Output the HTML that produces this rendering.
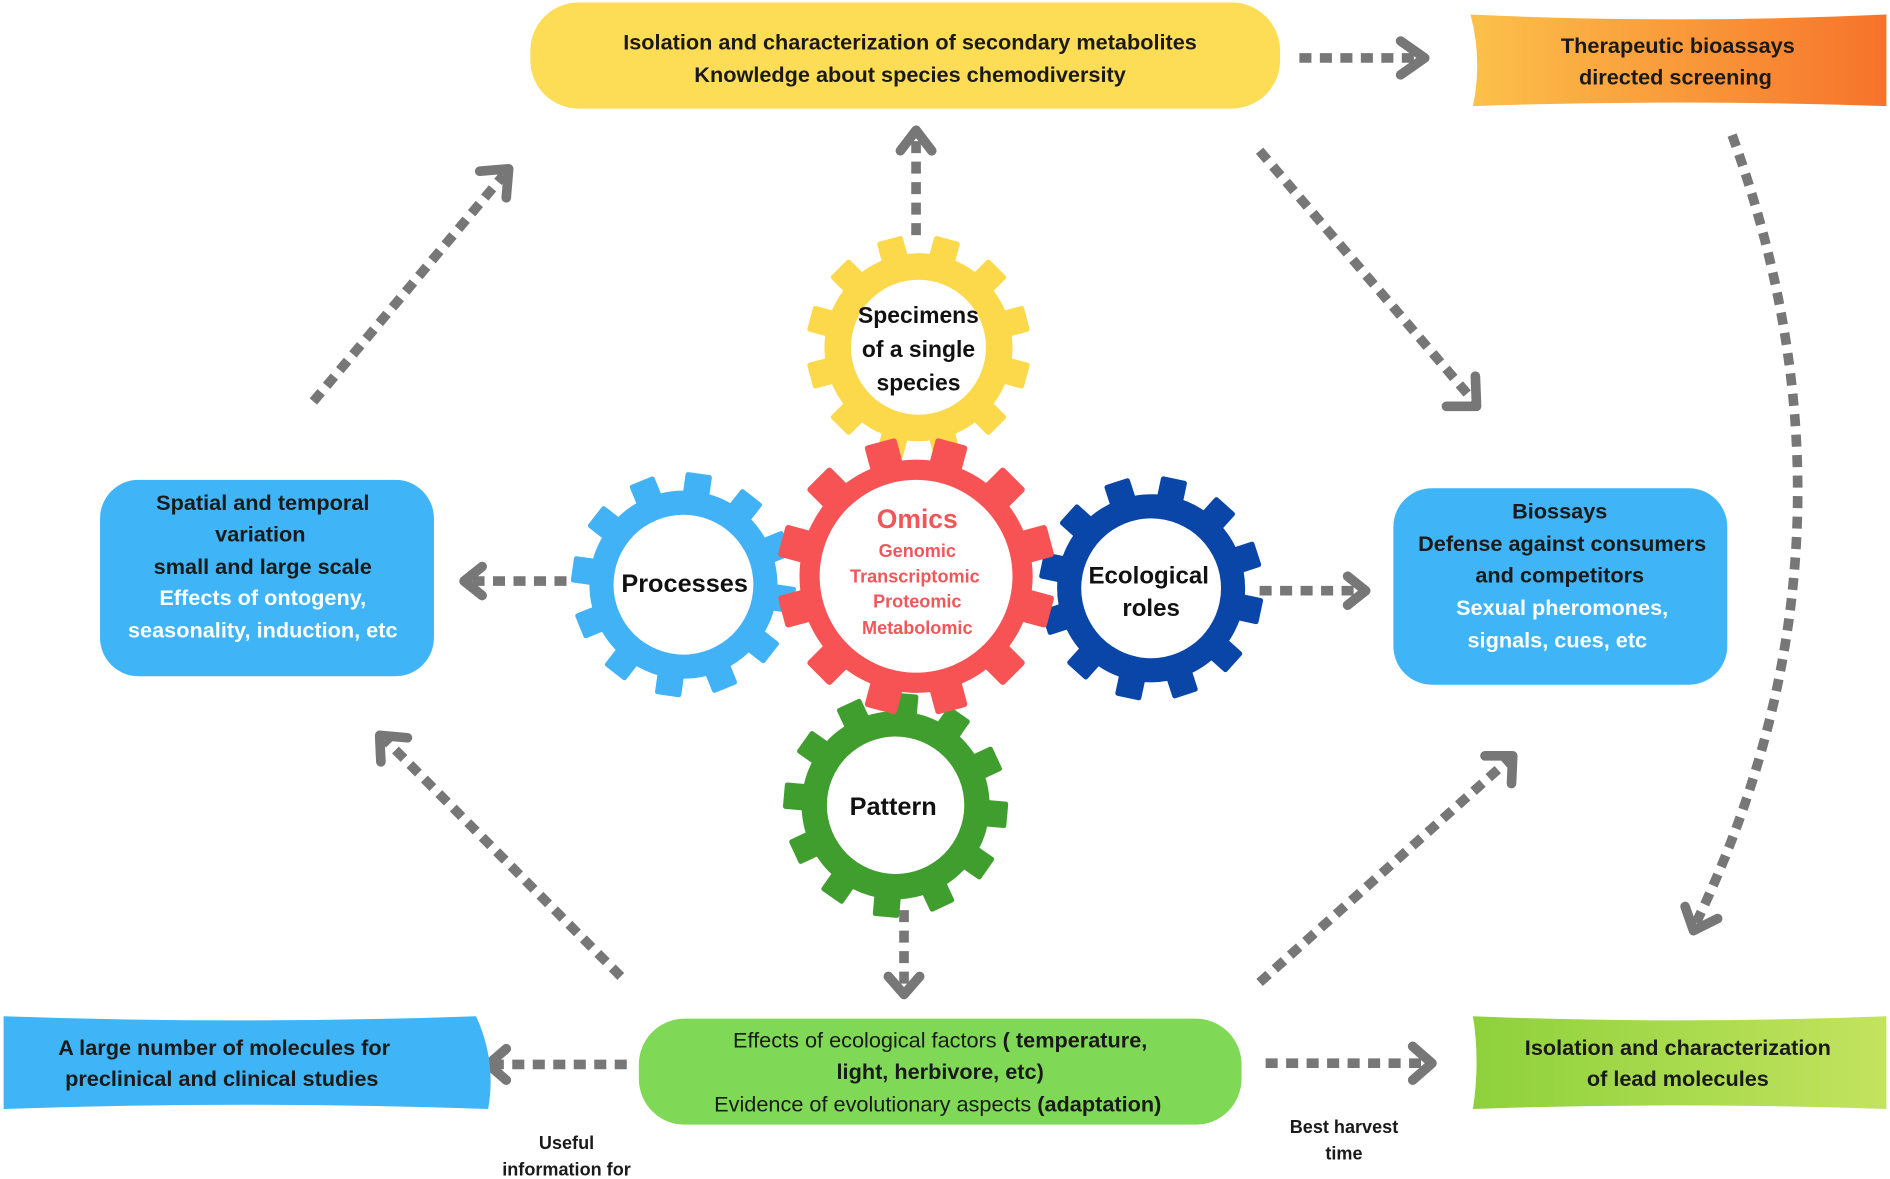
<!DOCTYPE html>
<html><head><meta charset="utf-8"><style>
html,body{margin:0;padding:0;background:#fff;}
svg{display:block;font-family:"Liberation Sans",sans-serif;}
</style></head><body>
<svg width="1890" height="1179" viewBox="0 0 1568 978" xmlns="http://www.w3.org/2000/svg">
<defs>
<g id="gear">
<circle r="78"/>
<rect x="-11" y="-93" width="22" height="22" rx="2"/>
<rect x="-11" y="-93" width="22" height="22" rx="2" transform="rotate(30)"/>
<rect x="-11" y="-93" width="22" height="22" rx="2" transform="rotate(60)"/>
<rect x="-11" y="-93" width="22" height="22" rx="2" transform="rotate(90)"/>
<rect x="-11" y="-93" width="22" height="22" rx="2" transform="rotate(120)"/>
<rect x="-11" y="-93" width="22" height="22" rx="2" transform="rotate(150)"/>
<rect x="-11" y="-93" width="22" height="22" rx="2" transform="rotate(180)"/>
<rect x="-11" y="-93" width="22" height="22" rx="2" transform="rotate(210)"/>
<rect x="-11" y="-93" width="22" height="22" rx="2" transform="rotate(240)"/>
<rect x="-11" y="-93" width="22" height="22" rx="2" transform="rotate(270)"/>
<rect x="-11" y="-93" width="22" height="22" rx="2" transform="rotate(300)"/>
<rect x="-11" y="-93" width="22" height="22" rx="2" transform="rotate(330)"/>
</g>
<linearGradient id="og" x1="0" x2="1"><stop offset="0" stop-color="#fcc14a"/><stop offset="1" stop-color="#f6732b"/></linearGradient>
<linearGradient id="gg" x1="0" x2="1"><stop offset="0" stop-color="#8ed13c"/><stop offset="1" stop-color="#c3e35e"/></linearGradient>
</defs>

<!-- arrows -->
<g stroke="#777" stroke-width="8" fill="none" stroke-dasharray="10 7">
<line x1="1078" y1="48" x2="1178" y2="48"/>
<line x1="760" y1="195" x2="760" y2="112"/>
<line x1="260" y1="333" x2="418" y2="145"/>
<line x1="1045" y1="125" x2="1222" y2="332"/>
<path d="M1437 112 Q1560 450 1405 770"/>
<line x1="470" y1="482" x2="388" y2="482"/>
<line x1="1045" y1="490" x2="1130" y2="490"/>
<line x1="750" y1="755" x2="750" y2="822"/>
<line x1="515" y1="810" x2="320" y2="614"/>
<line x1="1045" y1="815" x2="1252" y2="630"/>
<line x1="520" y1="883" x2="408" y2="883"/>
<line x1="1050" y1="882" x2="1185" y2="882"/>
</g>
<g stroke="#777" stroke-width="8" fill="none" stroke-linecap="round" stroke-linejoin="round">
<polyline points="1162,34 1182,48 1162,62"/>
<polyline points="747,125 760,108 773,125"/>
<polyline points="398,142 422,140 420,164"/>
<polyline points="1200,337 1225,337 1224,312"/>
<polyline points="1398,752 1405,772 1425,762"/>
<polyline points="400,470 385,482 400,494"/>
<polyline points="1118,478 1133,490 1118,502"/>
<polyline points="737,810 750,825 763,810"/>
<polyline points="316,632 315,610 338,612"/>
<polyline points="1232,627 1255,627 1254,650"/>
<polyline points="420,870 405,883 420,896"/>
<polyline points="1172,868 1188,882 1172,896"/>
</g>

<!-- gears -->
<use href="#gear" fill="#fbd94a" transform="translate(762,288) rotate(15)"/>
<circle cx="762" cy="288" r="56" fill="#fff"/>
<use href="#gear" fill="#41b2f5" transform="translate(567,485) rotate(8)"/>
<circle cx="567" cy="485" r="58" fill="#fff"/>
<use href="#gear" fill="#0a46a8" transform="translate(955,488) rotate(12)"/>
<circle cx="955" cy="488" r="58" fill="#fff"/>
<use href="#gear" fill="#3f9e2e" transform="translate(743,668) rotate(5)"/>
<circle cx="743" cy="668" r="57" fill="#fff"/>
<use href="#gear" fill="#f75254" transform="translate(760,478) scale(1.24) rotate(15)"/>
<circle cx="760" cy="478" r="80" fill="#fff"/>

<g font-weight="bold" text-anchor="middle" fill="#111">
<text x="762" y="268" font-size="19">Specimens</text>
<text x="762" y="296" font-size="19">of a single</text>
<text x="762" y="324" font-size="19">species</text>
<text x="568" y="491" font-size="21">Processes</text>
<text x="953" y="484" font-size="20">Ecological</text>
<text x="955" y="511" font-size="20">roles</text>
<text x="741" y="676" font-size="21">Pattern</text>
<g fill="#f0575a">
<text x="761" y="438" font-size="22">Omics</text>
<text x="761" y="462" font-size="15">Genomic</text>
<text x="759" y="483" font-size="15">Transcriptomic</text>
<text x="761" y="504" font-size="15">Proteomic</text>
<text x="761" y="526" font-size="15">Metabolomic</text>
</g>
</g>

<!-- boxes -->
<rect x="440" y="2" width="622" height="88" rx="40" fill="#fddc56"/>
<path d="M1220 12 Q1390 20 1565 12 L1565 88 Q1390 82 1222 88 Q1230 50 1220 12Z" fill="url(#og)"/>
<rect x="83" y="398" width="277" height="163" rx="32" fill="#3fb4f6"/>
<rect x="1156" y="405" width="277" height="163" rx="32" fill="#3fb4f6"/>
<path d="M3 843 Q200 850 395 843 Q412 880 405 920 Q200 913 3 920Z" fill="#3fb4f6"/>
<rect x="530" y="845" width="500" height="88" rx="38" fill="#7fd956"/>
<path d="M1222 843 Q1390 850 1565 843 L1565 920 Q1390 914 1222 920 Q1228 880 1222 843Z" fill="url(#gg)"/>

<g font-weight="bold" text-anchor="middle" fill="#1a1a1a" font-size="18">
<text x="755" y="41">Isolation and  characterization of secondary metabolites</text>
<text x="755" y="68">Knowledge about species chemodiversity</text>
<text x="1392" y="44">Therapeutic  bioassays</text>
<text x="1390" y="70">directed screening</text>
<text x="218" y="423">Spatial and temporal</text>
<text x="216" y="449">variation</text>
<text x="218" y="476">small and large scale</text>
<text x="1294" y="430">Biossays</text>
<text x="1296" y="457">Defense against consumers</text>
<text x="1294" y="483">and competitors</text>
<text x="186" y="875">A large number of molecules for</text>
<text x="184" y="901">preclinical and clinical studies</text>
<text x="1392" y="875">Isolation and characterization</text>
<text x="1392" y="901">of lead molecules</text>
<g fill="#fff">
<text x="218" y="502">Effects of ontogeny,</text>
<text x="218" y="529">seasonality, induction, etc</text>
<text x="1296" y="510">Sexual pheromones,</text>
<text x="1292" y="537">signals, cues, etc</text>
</g>
<g font-weight="normal">
<text x="780" y="869">Effects of  ecological factors <tspan font-weight="bold">( temperature,</tspan></text>
<text x="780" y="895"><tspan font-weight="bold">light, herbivore, etc)</tspan></text>
<text x="778" y="922">Evidence of evolutionary aspects <tspan font-weight="bold">(adaptation)</tspan></text>
</g>
<g font-size="15">
<text x="470" y="953">Useful</text>
<text x="470" y="975">information for</text>
<text x="1115" y="940">Best harvest</text>
<text x="1115" y="962">time</text>
</g>
</g>
</svg>
</body></html>
